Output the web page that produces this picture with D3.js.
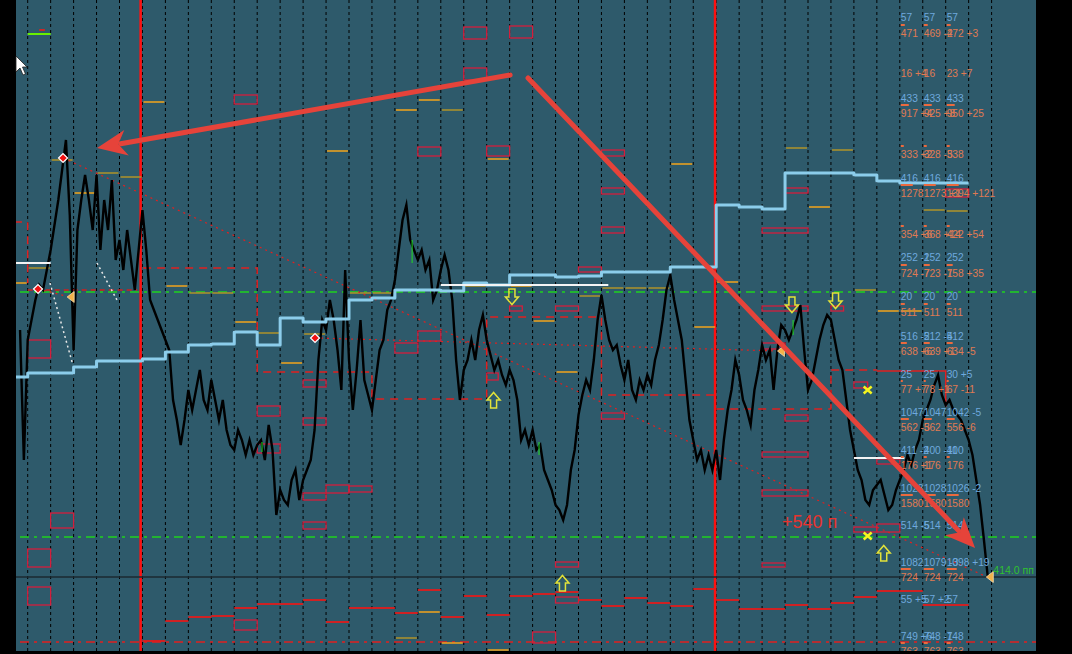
<!DOCTYPE html>
<html>
<head>
<meta charset="utf-8">
<script src="https://cdn.jsdelivr.net/npm/d3@7"></script>
<style>
  body { margin: 0; background: #000; }
  svg { display: block; }
  text { font-family: "Liberation Sans", Arial, sans-serif; }
</style>
</head>
<body>
<svg id="chart"></svg>
<script>
const width = 1072;
const height = 654;
const plotLeft = 16;
const plotRight = 1036;
const plotBottom = 651;

// ---- data (time in days, price in points) ----
const dayTicks = d3.range(0, 43);
const weekStarts = [4.92, 29.95];

// H4 closes, 6 per day, first bar at day -1/3
const priceStart = -1 / 3;
const priceH4 = [
  670,540,660,680,700,715,710,730,750,775,
  800,830,860,785,650,770,800,825,800,770,
  825,750,800,770,820,740,760,730,770,740,
  710,750,790,750,700,690,680,670,660,650,
  600,580,555,580,610,590,610,630,600,590,
  620,600,580,600,570,555,550,570,560,545,
  560,545,555,560,540,575,550,485,510,500,
  495,520,530,500,520,530,540,570,640,680,
  670,700,680,650,610,730,640,590,630,680,
  620,605,590,620,650,660,690,700,720,750,
  780,795,760,750,740,750,730,740,700,710,
  730,745,730,700,640,600,630,640,660,640,
  670,685,660,645,630,640,625,615,630,620,
  600,560,570,555,570,550,555,530,520,510,
  495,490,480,495,530,550,585,605,620,610,
  640,680,705,680,660,650,655,635,620,640,
  610,600,620,610,625,615,640,655,680,710,
  725,700,680,660,620,580,560,540,550,530,
  545,530,550,520,560,590,610,640,625,600,
  590,575,610,630,655,640,650,610,650,675,
  670,660,670,680,695,650,610,620,640,660,
  675,685,680,660,640,630,600,570,550,530,
  520,500,495,510,515,520,505,490,495,510,
  520,530,545,535,550,560,580,590,600,615,
  625,605,595,600,590,585,580,570,560,545,
  520,495,460,423
];

// daily baseline (light blue steps), days -1 .. 41
const baselineDays = d3.range(-1, 42);
const baseline = [623,627,627,633,639,639,641,648,655,656,668,655,682,678,681,700,702,710,710,709,
  717,715,725,725,723,724,728,728,728,733,733,795,793,791,827,827,827,825,819,817,817,817,817];

// short daily levels
const orangeDays   = [-1,0,1,2,3,4,5,6,7,8,9,10,11,12,13,14,15,16,16,17,17,18,18,19,20,20,21,22,23,24,25,26,27,28,29,30,33,34,35,36,37,38,39,40];
const orangeLevels = [717,732,840,807,827,823,898,714,707,707,678,667,637,666,849,707,707,890,362,900,388,890,357,714,841,350,714,679,628,704,712,712,712,836,673,718,852,793,850,710,689,689,790,789];
const orangeKinds  = "oggoggooggogogoggogoogogoooooggggooogoggoo";

const redDays = d3.range(5, 41);
const redLevels = [359,379,383,384,392,396,396,400,378,392,392,387,410,383,404,385,404,406,408,400,
  394,402,397,394,411,400,391,391,395,391,397,403,409,409,395,395];

// zones: [dayFrom, dayTo, top, bottom]
const zones = [
  [0,1,660,642],[1,2,487,472],[0,1,451,433],[0,1,413,395],[9,10,905,896],[10,11,594,584],
  [10,11,556,547],[9,10,380,370],[19,20,973,961],[21,22,974,962],[19,20,932,920],[17,18,853,844],
  [20,21,854,844],[12,13,620,613],[12,13,582,575],[16,17,657,647],[17,18,669,659],[20,20.5,627,620],
  [21,21.55,694,689],[23,24,694,689],[24,25,733,728],[12,13,507,500],[13,14,515,507],[14,15,514,508],
  [12,13,478,471],[23,24,438,433],[23,24,403,397],[22,23,368,357],[25,26,850,844],[25,26,812,806],
  [33,34,812,807],[25,26,773,767],[32,34,772,767],[32,34,694,689],[32,33,657,651],[33,34,585,579],
  [35,35.55,694,689],[36,36.6,618,612],[25,26,587,581],[32,34,548,543],[32,34,510,504],[32,33,437,433],
  [36,37,473,468],[37,38,476,468],[37,38,541,536],[40,41,811,803]
];

// range outlines (dashed) and trend lines
const rangeDashed = [
  [[-0.6,778],[0,778],[0,717]],
  [[5.03,732],[10,732],[10,628],[15,628],[15,601],[20,601],[20,683],[25,683],[25,605],[30,605]],
  [[30,591],[35,591],[35,630],[37,630]]
];
const rangeSolid = [[37,629],[40,629],[40,593]];
const dottedRed = [
  [[1.54,842],[41.8,423]],
  [[12.52,662],[32.78,649]],
  [[0.45,711],[1.84,703]]
];
const dashedRed = [[0,710],[4.77,710]];
const dottedWhite = [
  [[0.97,717],[1.97,635]],
  [[3.02,737],[3.89,700]]
];
const whiteLevels = [
  [[-0.6,737],[1,737]],
  [[18,715],[25.3,715]],
  [[36,542],[38.2,542]]
];

const greenLevels = [708, 463];
const redDashLevel = 358;
const currentPrice = 423;

const bigArrows = [
  {from: [21.02, 925], to: [3.02, 852]},
  {from: [21.8, 922], to: [41.28, 452]}
];

const signalDays   = [21.1, 33.3, 35.2, 20.3, 23.3, 37.3];
const signalLevels = [703, 695, 699, 600, 417, 447];
const signalDirs   = ["down", "down", "down", "up", "up", "up"];
const crosses = [[36.6, 610], [36.6, 464]];
const pointers = [[1.85, 703], [32.8, 649], [41.9, 423]];
const pivots = [[1.54, 842], [0.45, 711], [12.52, 662]];
const greenTicks = [[16.75, 760, 737], [33.35, 680, 665], [22.28, 558, 545], [10.21, 558, 548]];

// right side counters
const labelDays = [38, 39, 40];
const labelLevels = [983,967,927,902,887,846,822,807,766,743,727,704,688,664,649,626,611,588,573,550,535,512,497,475,438,423,401,364,349];
const labelKinds = "boobooboobobobobobobobobbobbo";
const labelBarWidths = [0,4,0,0,8,3,0,12,3,0,6,0,4,0,6,0,2,0,8,0,3,0,12,0,0,10,0,0,4];
const labelTexts = [
  ["57","57","57"],
  ["471","469 -2","472 +3"],
  ["16 +4","16","23 +7"],
  ["433","433","433"],
  ["917 +4","925 +8","950 +25"],
  ["333 +2","328 -5","338"],
  ["416","416","416"],
  ["1278","1273 +1","1394 +121"],
  ["354 +6","368 +14","422 +54"],
  ["252 -1","252","252"],
  ["724 -7","723 -1","758 +35"],
  ["20","20","20"],
  ["511","511","511"],
  ["516 -2","512 -4","512"],
  ["638 +6","639 +1","634 -5"],
  ["25","25","30 +5"],
  ["77 +7","78 +1","67 -11"],
  ["1047","1047","1042 -5"],
  ["562 -3","562","556 -6"],
  ["411 -2","400 -11","400"],
  ["176 +1","176","176"],
  ["1028","1028","1026 -2"],
  ["1580","1580","1580"],
  ["514 -5","514","514"],
  ["1082","1079 -3","1098 +19"],
  ["724","724","724"],
  ["55 +5","57 +2","57"],
  ["749 +6","748 -1","748"],
  ["763","763","763"]
];

// ---- scales ----
const x = d3.scaleLinear().domain([0, 42]).range([27.7, 991.6]);
const y = d3.scaleLinear().domain([1000, 350]).range([0, 650]);

const svg = d3.select("#chart")
    .attr("width", width)
    .attr("height", height);

svg.append("rect")
    .attr("width", width).attr("height", height)
    .attr("fill", "#000");

svg.append("defs").append("clipPath").attr("id", "plot")
  .append("rect")
    .attr("x", plotLeft).attr("y", 0)
    .attr("width", plotRight - plotLeft).attr("height", plotBottom);

const g = svg.append("g").attr("clip-path", "url(#plot)");

g.append("rect")
    .attr("x", plotLeft).attr("y", 0)
    .attr("width", plotRight - plotLeft).attr("height", plotBottom)
    .attr("fill", "#2E5A6B");

// day separators
g.selectAll(".day").data(dayTicks).join("line")
    .attr("x1", d => x(d)).attr("x2", d => x(d))
    .attr("y1", 0).attr("y2", plotBottom)
    .attr("stroke", "#000")
    .attr("stroke-width", 1)
    .attr("stroke-dasharray", "3 3");

// week separators
g.selectAll(".week").data(weekStarts).join("line")
    .attr("x1", d => x(d)).attr("x2", d => x(d))
    .attr("y1", 0).attr("y2", plotBottom)
    .attr("stroke", "#FF1010")
    .attr("stroke-width", 2.5);

// horizontal levels
g.append("line")
    .attr("x1", plotLeft).attr("x2", plotRight)
    .attr("y1", y(currentPrice)).attr("y2", y(currentPrice))
    .attr("stroke", "#1B2A31").attr("stroke-width", 1.5);

g.selectAll(".green").data(greenLevels).join("line")
    .attr("x1", 20).attr("x2", plotRight)
    .attr("y1", d => y(d)).attr("y2", d => y(d))
    .attr("stroke", "#1FD21F").attr("stroke-width", 1.3)
    .attr("stroke-dasharray", "9 5 3 5");

g.append("line")
    .attr("x1", 20).attr("x2", plotRight)
    .attr("y1", y(redDashLevel)).attr("y2", y(redDashLevel))
    .attr("stroke", "#E02020").attr("stroke-width", 1.5)
    .attr("stroke-dasharray", "9 5 3 5");

// zones
g.selectAll(".zone").data(zones).join("rect")
    .attr("x", d => x(d[0]))
    .attr("y", d => y(d[2]))
    .attr("width", d => x(d[1]) - x(d[0]))
    .attr("height", d => y(d[3]) - y(d[2]))
    .attr("fill", "none")
    .attr("stroke", "#D41E3C")
    .attr("stroke-width", 1.3);

// orange daily levels
g.selectAll(".orange").data(orangeDays).join("line")
    .attr("x1", d => x(d) + 1).attr("x2", d => x(d + 1) - 1)
    .attr("y1", (d, i) => y(orangeLevels[i])).attr("y2", (d, i) => y(orangeLevels[i]))
    .attr("stroke", (d, i) => orangeKinds[i] === "o" ? "#E8A020" : "#A8902E")
    .attr("stroke-width", 1.6);

// red daily levels
g.selectAll(".redlvl").data(redDays).join("line")
    .attr("x1", d => x(d)).attr("x2", d => x(d + 1))
    .attr("y1", (d, i) => y(redLevels[i])).attr("y2", (d, i) => y(redLevels[i]))
    .attr("stroke", "#E31B1B")
    .attr("stroke-width", 1.8);

const line = d3.line().x(d => x(d[0])).y(d => y(d[1]));

g.selectAll(".range").data(rangeDashed).join("path")
    .attr("d", line)
    .attr("fill", "none")
    .attr("stroke", "#E02020")
    .attr("stroke-width", 1.5)
    .attr("stroke-dasharray", "8 6");

g.append("path")
    .attr("d", line(rangeSolid))
    .attr("fill", "none")
    .attr("stroke", "#E02020")
    .attr("stroke-width", 1.5);

g.selectAll(".dotred").data(dottedRed).join("path")
    .attr("d", line)
    .attr("fill", "none")
    .attr("stroke", "#E02020")
    .attr("stroke-width", 1.2)
    .attr("stroke-dasharray", "2 4");

g.append("path")
    .attr("d", line(dashedRed))
    .attr("fill", "none")
    .attr("stroke", "#D02020")
    .attr("stroke-width", 1.5)
    .attr("stroke-dasharray", "5 4");

// price
const priceLine = d3.line()
    .x((d, i) => x(priceStart + i / 6))
    .y(d => y(d));

g.append("path")
    .attr("d", priceLine(priceH4))
    .attr("fill", "none")
    .attr("stroke", "#000")
    .attr("stroke-width", 2.4)
    .attr("stroke-linejoin", "miter")
    .attr("stroke-miterlimit", 6);

g.selectAll(".gtick").data(greenTicks).join("line")
    .attr("x1", d => x(d[0])).attr("x2", d => x(d[0]))
    .attr("y1", d => y(d[1])).attr("y2", d => y(d[2]))
    .attr("stroke", "#22DD22").attr("stroke-width", 1);

// baseline steps
const stepLine = d3.line()
    .curve(d3.curveStepAfter)
    .x((d, i) => x(baselineDays[i]))
    .y(d => y(d));

g.append("path")
    .attr("d", stepLine(baseline))
    .attr("fill", "none")
    .attr("stroke", "#8CCDEB")
    .attr("stroke-width", 3)
    .attr("stroke-linejoin", "round");

g.selectAll(".white").data(whiteLevels).join("path")
    .attr("d", line)
    .attr("stroke", "#F4F4F4")
    .attr("stroke-width", 2);

g.selectAll(".dotwhite").data(dottedWhite).join("path")
    .attr("d", line)
    .attr("stroke", "#E8E8E8")
    .attr("stroke-width", 1.5)
    .attr("stroke-dasharray", "2 3");

// markers
g.selectAll(".signal").data(signalDays).join("path")
    .attr("transform", (d, i) => `translate(${x(d)},${y(signalLevels[i])})` + (signalDirs[i] === "up" ? " rotate(180)" : ""))
    .attr("d", "M-3,-8 L3,-8 L3,0 L6.5,0 L0,7.5 L-6.5,0 L-3,0 Z")
    .attr("fill", "none")
    .attr("stroke", "#E2E23A")
    .attr("stroke-width", 1.5);

g.selectAll(".cross").data(crosses).join("path")
    .attr("transform", d => `translate(${x(d[0])},${y(d[1])})`)
    .attr("d", "M-4,-3.5 L4,3.5 M-4,3.5 L4,-3.5")
    .attr("stroke", "#F5F51E")
    .attr("stroke-width", 2.5);

g.selectAll(".pointer").data(pointers).join("path")
    .attr("transform", d => `translate(${x(d[0])},${y(d[1])})`)
    .attr("d", "M-3,0 L4,-5.5 L4,5.5 Z")
    .attr("fill", "#F2B24A")
    .attr("stroke", "#F8E0B0")
    .attr("stroke-width", 0.8);

g.selectAll(".pivot").data(pivots).join("path")
    .attr("transform", d => `translate(${x(d[0])},${y(d[1])})`)
    .attr("d", "M-4.5,0 L0,-4.5 L4.5,0 L0,4.5 Z")
    .attr("fill", "#F01010")
    .attr("stroke", "#FFFFFF")
    .attr("stroke-width", 1.2);

// top-left tag
g.append("line")
    .attr("x1", x(0)).attr("x2", x(1))
    .attr("y1", y(966)).attr("y2", y(966))
    .attr("stroke", "#6AF000").attr("stroke-width", 2);
g.append("line")
    .attr("x1", x(0.5)).attr("x2", x(0.75))
    .attr("y1", y(970)).attr("y2", y(970))
    .attr("stroke", "#C82828").attr("stroke-width", 2);

// right-side counters
labelTexts.forEach((row, r) => {
    row.forEach((txt, c) => {
        if (labelBarWidths[r] > 0) {
            g.append("rect")
                .attr("x", x(labelDays[c]) + 1)
                .attr("y", y(labelLevels[r]) - 9)
                .attr("width", labelBarWidths[r])
                .attr("height", 2)
                .attr("fill", "#EB6A3E");
        }
        g.append("text")
            .attr("x", x(labelDays[c]) + 1)
            .attr("y", y(labelLevels[r]) + 3.6)
            .attr("font-size", 10.2)
            .attr("fill", labelKinds[r] === "b" ? "#6EA9DE" : "#E07A52")
            .text(txt);
    });
});

// big trend arrows
bigArrows.forEach(a => {
    const x1 = x(a.from[0]), y1 = y(a.from[1]);
    const x2 = x(a.to[0]), y2 = y(a.to[1]);
    const ang = Math.atan2(y2 - y1, x2 - x1);
    const len = 30, half = 13;
    const bx = x2 - len * Math.cos(ang), by = y2 - len * Math.sin(ang);
    g.append("line")
        .attr("x1", x1).attr("y1", y1)
        .attr("x2", bx + 6 * Math.cos(ang)).attr("y2", by + 6 * Math.sin(ang))
        .attr("stroke", "#E6433A")
        .attr("stroke-width", 5)
        .attr("stroke-linecap", "round");
    const pts = [
        [x2, y2],
        [bx - half * Math.sin(ang), by + half * Math.cos(ang)],
        [x2 - 0.72 * len * Math.cos(ang), y2 - 0.72 * len * Math.sin(ang)],
        [bx + half * Math.sin(ang), by - half * Math.cos(ang)]
    ];
    g.append("polygon")
        .attr("points", pts.map(p => p.join(",")).join(" "))
        .attr("fill", "#E6433A");
});

// annotations
g.append("text")
    .attr("x", x(32.87)).attr("y", y(472))
    .attr("font-size", 18)
    .attr("fill", "#E8332E")
    .text("+540 п");

g.append("text")
    .attr("x", x(41.9) + 4).attr("y", y(currentPrice) - 3)
    .attr("font-size", 10.5)
    .attr("fill", "#2FC12F")
    .text("414.0 пп |");

// mouse pointer
svg.append("path")
    .attr("d", "M16,56 L16,72 L20,68 L23,75 L25.5,74 L22.5,67 L27,67 Z")
    .attr("fill", "#fff")
    .attr("stroke", "#222")
    .attr("stroke-width", 0.8);
</script>
</body>
</html>
